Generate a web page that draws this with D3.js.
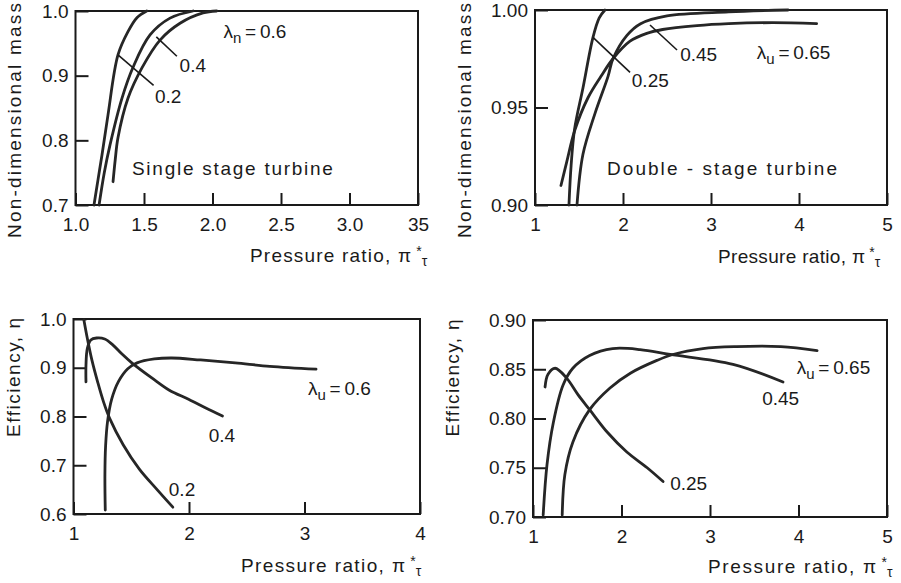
<!DOCTYPE html>
<html>
<head>
<meta charset="utf-8">
<script src="https://cdn.jsdelivr.net/npm/d3@7"></script>
<style>
  body { margin: 0; background: #fff; }
  svg { display: block; font-family: "Liberation Sans", Arial, sans-serif; }
</style>
</head>
<body>
<svg id="chart"></svg>
<script>
const WIDTH = 901;
const HEIGHT = 583;

// --- Data: [pressure ratio, value] ---
// single stage turbine, non-dimensional mass
const single02 = [[1.135, 0.70], [1.165, 0.74], [1.193, 0.777], [1.237, 0.839], [1.31, 0.932], [1.383, 0.968], [1.45, 0.99], [1.52, 1.0]];
const single04 = [[1.172, 0.70], [1.21, 0.75], [1.252, 0.793], [1.339, 0.865], [1.42, 0.913], [1.544, 0.963], [1.69, 0.989], [1.858, 1.0]];
const single06 = [[1.274, 0.736], [1.29, 0.77], [1.31, 0.804], [1.383, 0.865], [1.485, 0.912], [1.617, 0.955], [1.763, 0.981], [1.931, 0.997], [2.03, 1.0]];

// double-stage turbine, non-dimensional mass
const double025 = [[1.386, 0.90], [1.41, 0.92], [1.45, 0.939], [1.545, 0.96], [1.659, 0.986], [1.73, 0.996], [1.795, 1.0]];
const double045 = [[1.477, 0.90], [1.545, 0.926], [1.682, 0.947], [1.83, 0.966], [1.886, 0.975], [2.045, 0.987], [2.2, 0.993], [2.5, 0.997], [3.2, 0.999], [3.875, 1.0]];
const double065 = [[1.295, 0.91], [1.36, 0.922], [1.45, 0.938], [1.602, 0.955], [1.75, 0.966], [1.886, 0.975], [2.08, 0.984], [2.27, 0.988], [2.45, 0.990], [2.84, 0.992], [3.2, 0.993], [3.7, 0.9935], [4.2, 0.993]];

// single stage, efficiency
const eff02 = [[1.09, 0.998], [1.12, 0.96], [1.16, 0.915], [1.21, 0.87], [1.26, 0.83], [1.315, 0.795], [1.43, 0.742], [1.57, 0.692], [1.72, 0.651], [1.86, 0.614]];
const eff04 = [[1.108, 0.871], [1.108, 0.905], [1.12, 0.94], [1.15, 0.957], [1.2, 0.961], [1.27, 0.959], [1.34, 0.947], [1.42, 0.928], [1.505, 0.91], [1.69, 0.877], [1.83, 0.854], [2.0, 0.835], [2.15, 0.817], [2.29, 0.801]];
const eff06 = [[1.275, 0.608], [1.272, 0.68], [1.278, 0.74], [1.295, 0.79], [1.33, 0.835], [1.39, 0.872], [1.47, 0.898], [1.55, 0.91], [1.7, 0.918], [1.85, 0.92], [2.1, 0.916], [2.4, 0.91], [2.7, 0.903], [3.1, 0.897]];

// double stage, efficiency
const eff025 = [[1.136, 0.832], [1.17, 0.845], [1.25, 0.851], [1.38, 0.841], [1.51, 0.824], [1.64, 0.809], [1.84, 0.786], [2.06, 0.766], [2.29, 0.75], [2.47, 0.736]];
const eff045 = [[1.115, 0.702], [1.158, 0.753], [1.23, 0.796], [1.34, 0.834], [1.45, 0.851], [1.64, 0.864], [1.9, 0.871], [2.21, 0.87], [2.55, 0.865], [3.26, 0.855], [3.825, 0.837]];
const eff065 = [[1.33, 0.702], [1.36, 0.743], [1.45, 0.776], [1.64, 0.809], [1.87, 0.831], [2.1, 0.846], [2.4, 0.859], [2.58, 0.865], [2.92, 0.871], [3.3, 0.873], [3.8, 0.873], [4.21, 0.869]];

// tick values and labels
const ticksX1 = [1, 1.5, 2, 2.5, 3, 3.5];
const labelsX1 = ["1.0", "1.5", "2.0", "2.5", "3.0", "35"];
const ticksY1 = [0.7, 0.8, 0.9, 1.0];
const labelsY1 = ["0.7", "0.8", "0.9", "1.0"];
const ticksX2 = [1, 2, 3, 4, 5];
const labelsX2 = ["1", "2", "3", "4", "5"];
const ticksY2 = [0.90, 0.95, 1.00];
const labelsY2 = ["0.90", "0.95", "1.00"];
const ticksX3 = [1, 2, 3, 4];
const labelsX3 = ["1", "2", "3", "4"];
const ticksY3 = [0.6, 0.7, 0.8, 0.9, 1.0];
const labelsY3 = ["0.6", "0.7", "0.8", "0.9", "1.0"];
const ticksY4 = [0.70, 0.75, 0.80, 0.85, 0.90];
const labelsY4 = ["0.70", "0.75", "0.80", "0.85", "0.90"];

const svg = d3.select("#chart")
    .attr("width", WIDTH)
    .attr("height", HEIGHT)
    .attr("viewBox", [0, 0, WIDTH, HEIGHT]);

const INK = "#1a1a1a";
const FONT = 19;

const line = (x, y) => d3.line()
    .x(d => x(d[0]))
    .y(d => y(d[1]))
    .curve(d3.curveCatmullRom.alpha(0.5));

function drawPanel(p) {
    const x = d3.scaleLinear().domain(p.xDomain).range([p.left, p.right]);
    const y = d3.scaleLinear().domain(p.yDomain).range([p.bottom, p.top]);
    const g = svg.append("g");

    // axes with inward ticks
    const gx = g.append("g")
        .attr("transform", `translate(0,${p.bottom})`)
        .call(d3.axisBottom(x).tickValues(p.xTicks)
            .tickFormat((d, i) => p.xLabels[i])
            .tickSizeInner(-12).tickSizeOuter(0).tickPadding(13));
    const gy = g.append("g")
        .attr("transform", `translate(${p.left},0)`)
        .call(d3.axisLeft(y).tickValues(p.yTicks)
            .tickFormat((d, i) => p.yLabels[i])
            .tickSizeInner(-13).tickSizeOuter(0).tickPadding(7));

    [gx, gy].forEach(a => {
        a.select(".domain").remove();
        a.selectAll("line").attr("stroke", INK).attr("stroke-width", 2);
        a.selectAll("text").attr("fill", INK).attr("font-size", FONT)
            .attr("font-family", "Liberation Sans, Arial, sans-serif");
    });

    // frame
    g.append("rect")
        .attr("x", p.left).attr("y", p.top)
        .attr("width", p.right - p.left).attr("height", p.bottom - p.top)
        .attr("fill", "none").attr("stroke", INK).attr("stroke-width", 2);

    // curves
    g.append("g").selectAll("path")
        .data(p.series)
        .join("path")
        .attr("d", d => line(x, y)(d))
        .attr("fill", "none")
        .attr("stroke", "#262626")
        .attr("stroke-width", 2.8)
        .attr("stroke-linecap", "round");

    // leader lines
    g.append("g").selectAll("line")
        .data(p.leaders || [])
        .join("line")
        .attr("x1", d => x(d[0][0])).attr("y1", d => y(d[0][1]))
        .attr("x2", d => x(d[1][0])).attr("y2", d => y(d[1][1]))
        .attr("stroke", INK).attr("stroke-width", 1.6);

    // plain labels
    p.notes.forEach(n => {
        const t = g.append("text")
            .attr("x", x(n.x)).attr("y", y(n.y))
            .attr("font-size", FONT).attr("fill", INK)
            .text(n.text);
        if (n.len) t.attr("textLength", n.len).attr("lengthAdjust", "spacing");
    });

    // lambda label
    const lam = g.append("text")
        .attr("x", x(p.lambda.x)).attr("y", y(p.lambda.y))
        .attr("font-size", FONT).attr("fill", INK);
    lam.append("tspan").text("λ");
    lam.append("tspan").attr("dy", 5).attr("font-size", 15).text(p.lambda.sub);
    lam.append("tspan").attr("dy", -5).text("\u2009=\u2009" + p.lambda.value);

    // x title: one text, * raised and τ lowered after the π
    const tx = p.xTitle;
    const title = g.append("text")
        .attr("x", tx.x0).attr("y", tx.base)
        .attr("font-size", FONT).attr("fill", INK);
    title.append("tspan")
        .attr("textLength", tx.x1 - tx.x0).attr("lengthAdjust", "spacing")
        .text("Pressure ratio, π");
    title.append("tspan").attr("dx", 4).attr("dy", -6).attr("font-size", 14).text("*");
    title.append("tspan").attr("dx", 0).attr("dy", 10).attr("font-size", 14).text("τ");

    // y title
    const ty = p.yTitle;
    g.append("text")
        .attr("transform", `translate(${ty.x},${ty.cy}) rotate(-90)`)
        .attr("text-anchor", "middle")
        .attr("font-size", FONT).attr("fill", INK)
        .attr("textLength", ty.len).attr("lengthAdjust", "spacing")
        .text(ty.text);
}

drawPanel({
    left: 75.5, right: 418, top: 11, bottom: 205,
    xDomain: [1, 3.5], yDomain: [0.7, 1.0],
    xTicks: ticksX1, xLabels: labelsX1, yTicks: ticksY1, yLabels: labelsY1,
    series: [single02, single04, single06],
    leaders: [[[1.59, 0.96], [1.74, 0.93]], [[1.31, 0.932], [1.57, 0.885]]],
    notes: [
        { text: "0.4", x: 1.76, y: 0.906 },
        { text: "0.2", x: 1.58, y: 0.858 },
        { text: "Single stage turbine", x: 1.412, y: 0.746, len: 201 }
    ],
    lambda: { x: 2.08, y: 0.958, sub: "n", value: "0.6" },
    xTitle: { x0: 250, x1: 411, base: 262 },
    yTitle: { x: 21, cy: 120.5, len: 235, text: "Non-dimensional mass" }
});

drawPanel({
    left: 535, right: 887, top: 10, bottom: 205,
    xDomain: [1, 5], yDomain: [0.9, 1.0],
    xTicks: ticksX2, xLabels: labelsX2, yTicks: ticksY2, yLabels: labelsY2,
    series: [double025, double045, double065],
    leaders: [[[2.307, 0.9923], [2.614, 0.9795]], [[1.659, 0.986], [2.08, 0.968]]],
    notes: [
        { text: "0.45", x: 2.65, y: 0.974 },
        { text: "0.25", x: 2.10, y: 0.9605 },
        { text: "Double - stage turbine", x: 1.818, y: 0.9154, len: 230 }
    ],
    lambda: { x: 3.52, y: 0.975, sub: "u", value: "0.65" },
    xTitle: { x0: 718, x1: 865, base: 263 },
    yTitle: { x: 471, cy: 120.5, len: 235, text: "Non-dimensional mass" }
});

drawPanel({
    left: 73.5, right: 420, top: 319, bottom: 514,
    xDomain: [1, 4], yDomain: [0.6, 1.0],
    xTicks: ticksX3, xLabels: labelsX3, yTicks: ticksY3, yLabels: labelsY3,
    series: [eff02, eff04, eff06],
    notes: [
        { text: "0.4", x: 2.17, y: 0.748 },
        { text: "0.2", x: 1.825, y: 0.637 }
    ],
    lambda: { x: 3.03, y: 0.844, sub: "u", value: "0.6" },
    xTitle: { x0: 241, x1: 405, base: 572 },
    yTitle: { x: 20, cy: 377.5, len: 119, text: "Efficiency, η" }
});

drawPanel({
    left: 533, right: 887, top: 320, bottom: 517,
    xDomain: [1, 5], yDomain: [0.7, 0.9],
    xTicks: ticksX2, xLabels: labelsX2, yTicks: ticksY4, yLabels: labelsY4,
    series: [eff025, eff045, eff065],
    notes: [
        { text: "0.45", x: 3.59, y: 0.814 },
        { text: "0.25", x: 2.55, y: 0.727 }
    ],
    lambda: { x: 3.98, y: 0.845, sub: "u", value: "0.65" },
    xTitle: { x0: 708, x1: 876, base: 573 },
    yTitle: { x: 459, cy: 378, len: 117, text: "Efficiency, η" }
});
</script>
</body>
</html>
